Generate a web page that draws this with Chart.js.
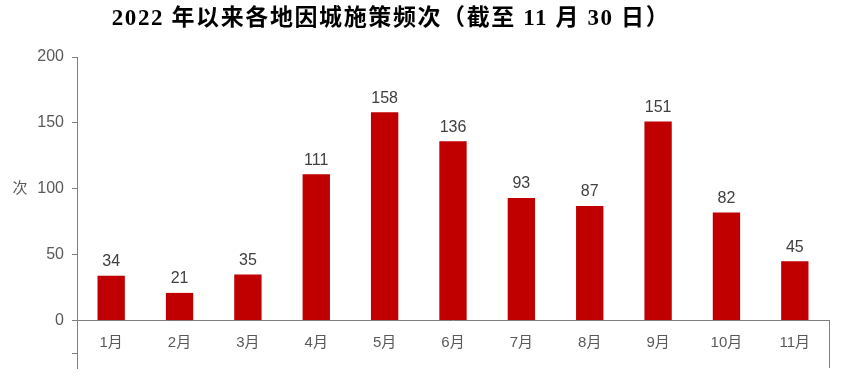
<!DOCTYPE html>
<html>
<head>
<meta charset="utf-8">
<script src="https://cdn.jsdelivr.net/npm/chart.js@4.4.1/dist/chart.umd.min.js"></script>
<style>
  html, body { margin: 0; padding: 0; background: #ffffff; }
  #wrap { position: relative; width: 849px; height: 380px; }
</style>
</head>
<body>
<div id="wrap"><canvas id="c" width="849" height="380"></canvas></div>
<script>
const chartTitle = '2022 年以来各地因城施策频次（截至 11 月 30 日）';
const unitLabel = '次';
const months = ['1月', '2月', '3月', '4月', '5月', '6月', '7月', '8月', '9月', '10月', '11月'];
const counts = [34, 21, 35, 111, 158, 136, 93, 87, 151, 82, 45];
const yTickValues = [-25, 0, 50, 100, 150, 200];

const axisGray = '#7f7f7f';
const textGray = '#595959';
const sansFont = '"Liberation Sans", Arial, "Noto Sans CJK SC", sans-serif';

// Title, unit label, value labels and the closing line below the baseline
const decorations = {
  id: 'decorations',
  afterDraw(chart) {
    const { ctx, chartArea, scales } = chart;
    const y = scales.y;
    ctx.save();

    ctx.fillStyle = '#000000';
    ctx.font = 'bold 23px "Liberation Serif", "Noto Sans CJK SC", serif';
    ctx.textAlign = 'center';
    ctx.textBaseline = 'middle';
    if ('letterSpacing' in ctx) ctx.letterSpacing = '1.6px';
    ctx.fillText(chartTitle, 391, 19);
    if ('letterSpacing' in ctx) ctx.letterSpacing = '0px';

    ctx.fillStyle = textGray;
    ctx.font = '15px ' + sansFont;
    ctx.fillText(unitLabel, 20, y.getPixelForValue(100));

    ctx.fillStyle = '#404040';
    ctx.font = '16px ' + sansFont;
    ctx.textBaseline = 'bottom';
    const meta = chart.getDatasetMeta(0);
    meta.data.forEach((bar, i) => {
      ctx.fillText(String(counts[i]), bar.x, bar.y - 6);
    });

    ctx.strokeStyle = axisGray;
    ctx.lineWidth = 1;
    const rx = Math.round(chartArea.right) + 0.5;
    ctx.beginPath();
    ctx.moveTo(rx, y.getPixelForValue(0));
    ctx.lineTo(rx, chartArea.bottom);
    ctx.stroke();
    ctx.restore();
  }
};

new Chart(document.getElementById('c'), {
  type: 'bar',
  data: {
    labels: months,
    datasets: [{
      data: counts,
      backgroundColor: '#c00000',
      borderWidth: 0,
      barPercentage: 0.4,
      categoryPercentage: 1.0
    }]
  },
  options: {
    responsive: false,
    animation: false,
    layout: { padding: { left: 0, right: 20, top: 57, bottom: 12 } },
    plugins: {
      legend: { display: false },
      tooltip: { enabled: false },
      title: { display: false }
    },
    scales: {
      x: {
        position: { y: 0 },
        grid: { display: false },
        border: { display: true, color: axisGray, width: 1 },
        ticks: {
          color: textGray,
          font: { size: 15, family: sansFont },
          padding: 5,
          maxRotation: 0
        },
        afterFit(scale) { scale.paddingLeft = 0; scale.paddingRight = 0; scale.paddingTop = 0; scale.paddingBottom = 0; }
      },
      y: {
        min: -36,
        max: 200,
        afterBuildTicks(scale) {
          scale.ticks = yTickValues.map(v => ({ value: v }));
        },
        afterFit(scale) { scale.width = 77; scale.paddingTop = 0; scale.paddingBottom = 0; },
        grid: {
          drawOnChartArea: false,
          drawTicks: true,
          tickLength: 5,
          color: axisGray
        },
        border: { display: true, color: axisGray, width: 1 },
        ticks: {
          color: textGray,
          font: { size: 16, family: sansFont },
          padding: 8,
          callback: v => (v < 0 ? '' : String(v))
        }
      }
    }
  },
  plugins: [decorations]
});
</script>
</body>
</html>
